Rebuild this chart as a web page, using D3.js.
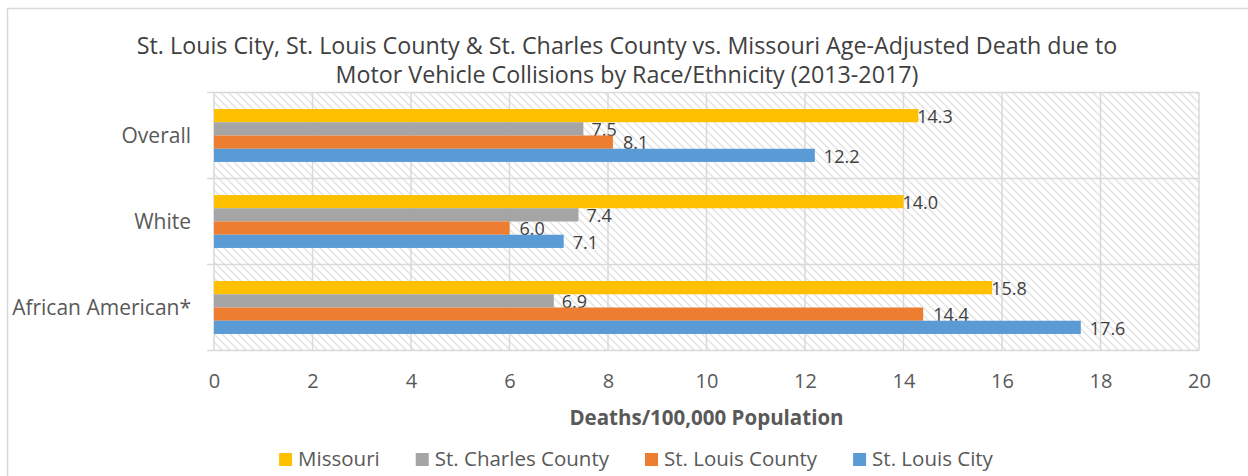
<!DOCTYPE html>
<html>
<head>
<meta charset="utf-8">
<script src="https://cdn.jsdelivr.net/npm/d3@7"></script>
<style>
  body { margin: 0; background: #fff; }
  text { font-family: "Open Sans", Lato, sans-serif; }
</style>
</head>
<body>
<svg id="container" width="1248" height="476"></svg>
<script>
const categories = ['Overall', 'White', 'African American*']
const seriesNames = ['Missouri', 'St. Charles County', 'St. Louis County', 'St. Louis City']
const missouri = [14.3, 14.0, 15.8]
const stCharles = [7.5, 7.4, 6.9]
const stLouisCounty = [8.1, 6.0, 14.4]
const stLouisCity = [12.2, 7.1, 17.6]
const xTicks = [0, 2, 4, 6, 8, 10, 12, 14, 16, 18, 20]
const titleLines = [
  'St. Louis City, St. Louis County & St. Charles County vs. Missouri Age-Adjusted Death due to',
  'Motor Vehicle Collisions by Race/Ethnicity (2013-2017)'
]
const xTitle = 'Deaths/100,000 Population'

const seriesValues = [missouri, stCharles, stLouisCounty, stLouisCity]
const colors = ['#FFC000', '#A5A5A5', '#ED7D31', '#5B9BD5']
const labelGap = [-1, 8, 10, 9]

const svg = d3.select('#container')

// outer chart border
svg.append('rect')
  .attr('x', 7.5).attr('y', 8.5)
  .attr('width', 1260).attr('height', 500)
  .attr('fill', '#fff').attr('stroke', '#d9d9d9').attr('stroke-width', 1.5)

const plot = { left: 214, right: 1199, top: 92.5, bottom: 350.5 }

const xScale = d3.scaleLinear().domain([0, 20]).range([plot.left, plot.right])
const yScale = d3.scaleBand().domain(categories).range([plot.top, plot.bottom])
const ySub = d3.scaleBand().domain(seriesNames).range([0, yScale.bandwidth()]).paddingOuter(1.25)

// hatch pattern for the plot background
const pat = svg.append('defs').append('pattern')
  .attr('id', 'hatch').attr('patternUnits', 'userSpaceOnUse')
  .attr('width', 8).attr('height', 8)
pat.append('rect').attr('width', 8).attr('height', 8).attr('fill', '#fff')
pat.append('path')
  .attr('d', 'M-2,-2 L10,10 M-2,6 L2,10 M6,-2 L10,2')
  .attr('stroke', '#e2e2e2').attr('stroke-width', 1.4)

svg.append('rect')
  .attr('x', plot.left).attr('y', plot.top)
  .attr('width', plot.right - plot.left).attr('height', plot.bottom - plot.top)
  .attr('fill', 'url(#hatch)')

// vertical gridlines
svg.append('g')
  .selectAll('line')
  .data(xTicks)
  .join('line')
  .attr('x1', (d) => xScale(d)).attr('x2', (d) => xScale(d))
  .attr('y1', plot.top).attr('y2', plot.bottom)
  .attr('stroke', '#d9d9d9').attr('stroke-width', 1.5)

// category boundaries incl. top and bottom, with small left ticks
const bounds = categories.map((c) => yScale(c)).concat([plot.bottom])
svg.append('g')
  .selectAll('line')
  .data(bounds)
  .join('line')
  .attr('x1', plot.left - 7).attr('x2', plot.right)
  .attr('y1', (d) => d).attr('y2', (d) => d)
  .attr('stroke', '#d9d9d9').attr('stroke-width', 1.5)

// bars
const groups = svg.append('g')
  .selectAll('g')
  .data(categories)
  .join('g')
  .attr('transform', (c) => `translate(0,${yScale(c)})`)

const rows = groups.selectAll('g')
  .data((c, ci) => seriesNames.map((s, si) => ({ s, si, v: seriesValues[si][ci] })))
  .join('g')

rows.append('rect')
  .attr('x', xScale(0))
  .attr('y', (d) => ySub(d.s))
  .attr('width', (d) => xScale(d.v) - xScale(0))
  .attr('height', ySub.bandwidth())
  .attr('fill', (d) => colors[d.si])

rows.append('text')
  .attr('x', (d) => xScale(d.v) + labelGap[d.si])
  .attr('y', (d) => ySub(d.s) + ySub.bandwidth() / 2 + 1)
  .attr('dy', '0.35em')
  .attr('font-size', 18)
  .attr('fill', '#404040')
  .text((d) => d.v.toFixed(1))

// category labels
svg.append('g')
  .selectAll('text')
  .data(categories)
  .join('text')
  .attr('x', 191)
  .attr('y', (c) => yScale(c) + yScale.bandwidth() / 2)
  .attr('dy', '0.35em')
  .attr('text-anchor', 'end')
  .attr('font-size', 21)
  .attr('fill', '#595959')
  .text((c) => c)

// x axis tick labels
const xAxis = d3.axisBottom(xScale).tickValues(xTicks).tickSize(0).tickPadding(23)
const axG = svg.append('g')
  .attr('transform', `translate(0,${plot.bottom})`)
  .call(xAxis)
axG.select('.domain').remove()
axG.selectAll('text')
  .attr('font-family', '"Open Sans", sans-serif')
  .attr('font-size', 20)
  .attr('fill', '#595959')

// axis title
svg.append('text')
  .attr('x', (plot.left + plot.right) / 2)
  .attr('y', 425)
  .attr('text-anchor', 'middle')
  .attr('font-size', 20.5)
  .attr('font-weight', 'bold')
  .attr('fill', '#595959')
  .text(xTitle)

// title, sized so the second line matches the original width
const title = svg.append('g')
const tl = title.selectAll('text')
  .data(titleLines)
  .join('text')
  .attr('x', 627)
  .attr('y', (d, i) => 54 + i * 29)
  .attr('text-anchor', 'middle')
  .attr('font-family', 'Lato, sans-serif')
  .attr('font-size', 22)
  .attr('fill', '#404040')
  .text((d) => d)
const w2 = tl.nodes()[1].getComputedTextLength()
tl.attr('font-size', 22 * 583 / w2)

// legend
const legend = svg.append('g')
const items = legend.selectAll('g')
  .data(seriesNames)
  .join('g')
items.append('rect')
  .attr('y', 453).attr('width', 13).attr('height', 13)
  .attr('fill', (d, i) => colors[i])
items.append('text')
  .attr('x', 19).attr('y', 466)
  .attr('font-size', 20.5)
  .attr('fill', '#595959')
  .text((d) => d)
let pos = 0
items.each(function () {
  const g = d3.select(this)
  g.attr('data-x', pos)
  pos += 19 + g.select('text').node().getComputedTextLength() + 36
})
const total = pos - 36
const start = 636 - total / 2
items.attr('transform', function () { return `translate(${start + +d3.select(this).attr('data-x')},0)` })
</script>
</body>
</html>
